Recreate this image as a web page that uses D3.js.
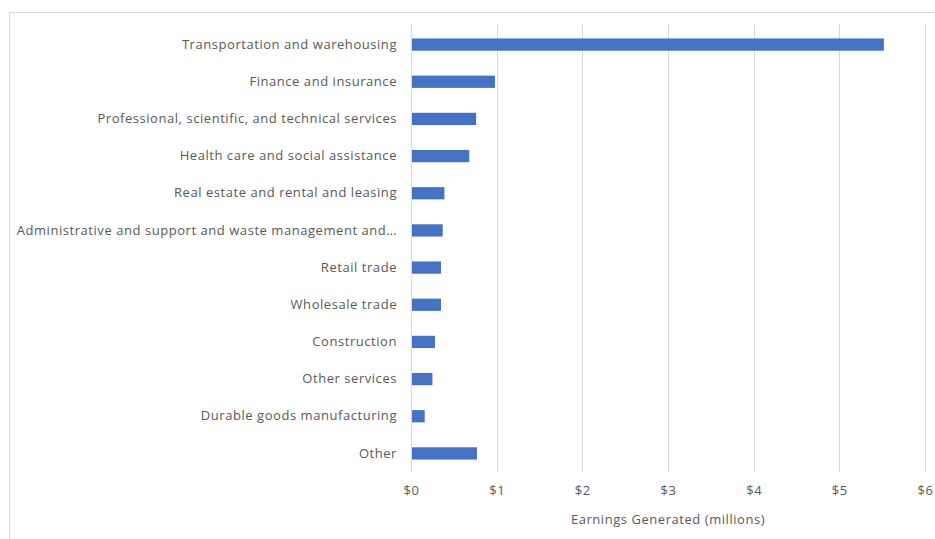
<!DOCTYPE html>
<html>
<head>
<meta charset="utf-8">
<script src="https://cdn.jsdelivr.net/npm/d3@7/dist/d3.min.js"></script>
<style>
  html, body { margin: 0; padding: 0; background: #fff; }
  svg { display: block; }
  text { font-family: "Open Sans", "Liberation Sans", sans-serif; fill: #595959; letter-spacing: 0.55px; }
</style>
</head>
<body>
<svg id="chart" width="935" height="539"></svg>
<script>
// Earnings generated by industry, in millions of dollars
const categories = [
  "Transportation and warehousing",
  "Finance and insurance",
  "Professional, scientific, and technical services",
  "Health care and social assistance",
  "Real estate and rental and leasing",
  "Administrative and support and waste management and\u2026",
  "Retail trade",
  "Wholesale trade",
  "Construction",
  "Other services",
  "Durable goods manufacturing",
  "Other"
];
const earnings = [5.52, 0.98, 0.76, 0.68, 0.39, 0.37, 0.35, 0.35, 0.28, 0.25, 0.16, 0.77];
const xTicks = [0, 1, 2, 3, 4, 5, 6];
const xTitle = "Earnings Generated (millions)";

const svg = d3.select("#chart");

// outer frame of the chart area
svg.append("rect")
  .attr("x", 9.5).attr("y", 12.5)
  .attr("width", 940).attr("height", 540)
  .attr("fill", "none")
  .attr("stroke", "#d9d9d9");

const plot = { left: 411, right: 925, top: 26, bottom: 472 };

const x = d3.scaleLinear().domain([0, 6]).range([plot.left, plot.right]);
const y = d3.scaleBand().domain(categories).range([plot.top, plot.bottom])
  .paddingInner(0.67).paddingOuter(0.335);

// vertical gridlines
svg.append("g")
  .selectAll("line")
  .data(xTicks)
  .join("line")
  .attr("x1", d => Math.round(x(d)) + 0.5)
  .attr("x2", d => Math.round(x(d)) + 0.5)
  .attr("y1", plot.top - 2)
  .attr("y2", plot.bottom)
  .attr("stroke", "#d9d9d9")
  .attr("stroke-width", 1);

// bars
svg.append("g")
  .selectAll("rect")
  .data(categories.map((c, i) => ({ c, v: earnings[i] })))
  .join("rect")
  .attr("x", x(0) + 1)
  .attr("y", d => y(d.c))
  .attr("width", d => x(d.v) - x(0) - 1)
  .attr("height", y.bandwidth())
  .attr("fill", "#4472c4");

// category labels
const yAxis = d3.axisLeft(y).tickSize(0).tickPadding(14);
const yg = svg.append("g").attr("transform", `translate(${plot.left},0)`).call(yAxis);
yg.select(".domain").remove();
yg.selectAll("text")
  .style("font-size", "13px")
  .attr("fill", "#595959");

// value axis labels
const xAxis = d3.axisBottom(x).tickValues(xTicks).tickSize(0).tickPadding(14)
  .tickFormat(d => "$" + d);
const xg = svg.append("g").attr("transform", `translate(0,${plot.bottom})`).call(xAxis);
xg.select(".domain").remove();
xg.selectAll("text")
  .style("font-size", "13px")
  .attr("fill", "#595959");

// axis title
svg.append("text")
  .attr("x", (plot.left + plot.right) / 2)
  .attr("y", 524)
  .attr("text-anchor", "middle")
  .style("font-size", "13px")
  .text(xTitle);
</script>
</body>
</html>
